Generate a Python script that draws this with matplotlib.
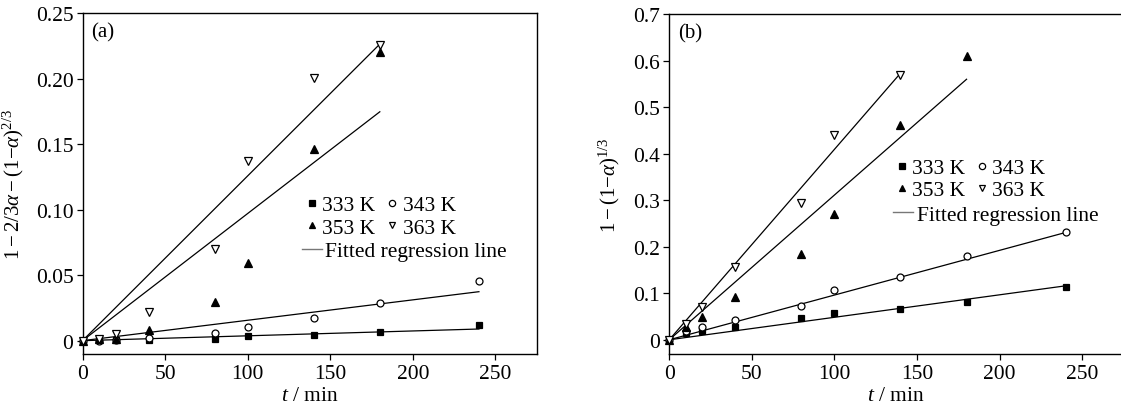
import matplotlib
matplotlib.use("Agg")
import matplotlib.pyplot as plt
from matplotlib.lines import Line2D

plt.rcParams["font.family"] = ["Liberation Serif", "DejaVu Serif"]
plt.rcParams["mathtext.fontset"] = "custom"
plt.rcParams["mathtext.rm"] = "Liberation Serif"
plt.rcParams["mathtext.it"] = "Liberation Serif:italic"
plt.rcParams["font.size"] = 15.5

# sampling times (min)
t_full = [0, 10, 20, 40, 80, 100, 140, 180, 240]
t_180 = [0, 10, 20, 40, 80, 100, 140, 180]
t_140 = [0, 10, 20, 40, 80, 100, 140]

temps = ["333 K", "343 K", "353 K", "363 K"]

# (a) 1 - 2/3a - (1-a)^(2/3)
a_333 = [0, 0.0003, 0.0004, 0.0005, 0.0013, 0.0033, 0.0041, 0.0064, 0.0117]
a_343 = [0, 0.0001, 0.0005, 0.0018, 0.0056, 0.0104, 0.0170, 0.0285, 0.0455]
a_353 = [0, 0.0015, 0.0010, 0.0081, 0.0298, 0.0593, 0.1463, 0.2201]
a_363 = [0, 0.0010, 0.0051, 0.0216, 0.0700, 0.1370, 0.2005, 0.2260]
a_fit_end = [0.0089, 0.0374, 0.1748, 0.2265]   # fitted value at last time point

# (b) 1 - (1-a)^(1/3)
b_333 = [0, 0.0136, 0.018, 0.028, 0.0458, 0.0573, 0.0659, 0.0817, 0.1132]
b_343 = [0, 0.018, 0.027, 0.042, 0.073, 0.1067, 0.136, 0.180, 0.232]
b_353 = [0, 0.028, 0.048, 0.091, 0.184, 0.270, 0.461, 0.610]
b_363 = [0, 0.034, 0.0695, 0.157, 0.295, 0.440, 0.569]
b_fit_end = [0.116, 0.2307, 0.560, 0.573]

x_ticks = [0, 50, 100, 150, 200, 250]
a_yticks = [0, 0.05, 0.10, 0.15, 0.20, 0.25]
a_yticklabels = ["0", "0.05", "0.10", "0.15", "0.20", "0.25"]
b_yticks = [0, 0.1, 0.2, 0.3, 0.4, 0.5, 0.6, 0.7]
b_yticklabels = ["0", "0.1", "0.2", "0.3", "0.4", "0.5", "0.6", "0.7"]

MARKERS = [
    dict(marker="s", mfc="black", mec="black"),
    dict(marker="o", mfc="white", mec="black"),
    dict(marker="^", mfc="black", mec="black"),
    dict(marker="v", mfc="white", mec="black"),
]
MSIZES = [5, 5, 5.5, 5.5]


def draw_panel(ax, series, fit_end, yticks, yticklabels, ylim, ylabel, tag,
               leg_xy, line_leg_xy, ylabel_x):
    for i, ((t, y), y_end) in enumerate(zip(series, fit_end)):
        # regression line through the origin up to the last sample
        ax.plot([0, t[-1]], [0, y_end], color="black", lw=0.9, zorder=2)
        ax.plot(t, y, ls="none", ms=MSIZES[i], mew=0.9, zorder=3,
                clip_on=False, **MARKERS[i])

    ax.set_xlim(0, 275)
    ax.set_ylim(*ylim)
    ax.set_xticks(x_ticks)
    ax.set_xticklabels([str(v) for v in x_ticks])
    ax.set_yticks(yticks)
    ax.set_yticklabels(yticklabels)
    ax.tick_params(direction="out", length=4, width=0.9, pad=2.5)
    ax.tick_params(axis="x", pad=3)
    for sp in ax.spines.values():
        sp.set_linewidth(1.0)

    ax.set_xlabel(r"$t$ / min")
    ax.xaxis.set_label_coords(0.5, -0.095)
    ax.xaxis.label.set_va("top")
    ax.set_ylabel(ylabel, fontsize=15)
    ax.yaxis.set_label_coords(ylabel_x, 0.5)
    ax.text(0.02, 0.945, tag, transform=ax.transAxes, ha="left", va="center",
            fontsize=15)

    handles = [Line2D([], [], ls="none", ms=MSIZES[i] - 0.5, mew=0.9, **MARKERS[i])
               for i in range(4)]
    order = [0, 2, 1, 3]
    leg = ax.legend([handles[i] for i in order], [temps[i] for i in order],
                    ncol=2, loc="upper left", bbox_to_anchor=leg_xy,
                    frameon=False, borderpad=0, borderaxespad=0,
                    handlelength=0.6, handletextpad=0.2, columnspacing=0.45,
                    labelspacing=0.1, fontsize=15.5)
    ax.add_artist(leg)
    line_h = Line2D([], [], color="#777777", lw=1.0)
    ax.legend([line_h], ["Fitted regression line"], loc="upper left",
              bbox_to_anchor=line_leg_xy, frameon=False, borderpad=0,
              borderaxespad=0, handlelength=0.93, handletextpad=0.15,
              fontsize=15.5)


fig = plt.figure(figsize=(11.21, 4.10), dpi=100)
ax_a = fig.add_axes([0.0736, 0.1341, 0.4052, 0.831])
ax_b = fig.add_axes([0.5970, 0.1341, 0.4052, 0.829])

draw_panel(
    ax_a,
    [(t_full, a_333), (t_full, a_343), (t_180, a_353), (t_180, a_363)],
    a_fit_end, a_yticks, a_yticklabels, (-0.0102, 0.25),
    r"$1-2/3\alpha-(1{-}\alpha)^{2/3}$", "(a)",
    (0.4904, 0.466), (0.4826, 0.331), -0.124,
)
draw_panel(
    ax_b,
    [(t_full, b_333), (t_full, b_343), (t_180, b_353), (t_140, b_363)],
    b_fit_end, b_yticks, b_yticklabels, (-0.0306, 0.7),
    r"$1-(1{-}\alpha)^{1/3}$", "(b)",
    (0.4975, 0.5764), (0.4933, 0.4394), -0.103,
)

fig.savefig("out.png", dpi=100)
